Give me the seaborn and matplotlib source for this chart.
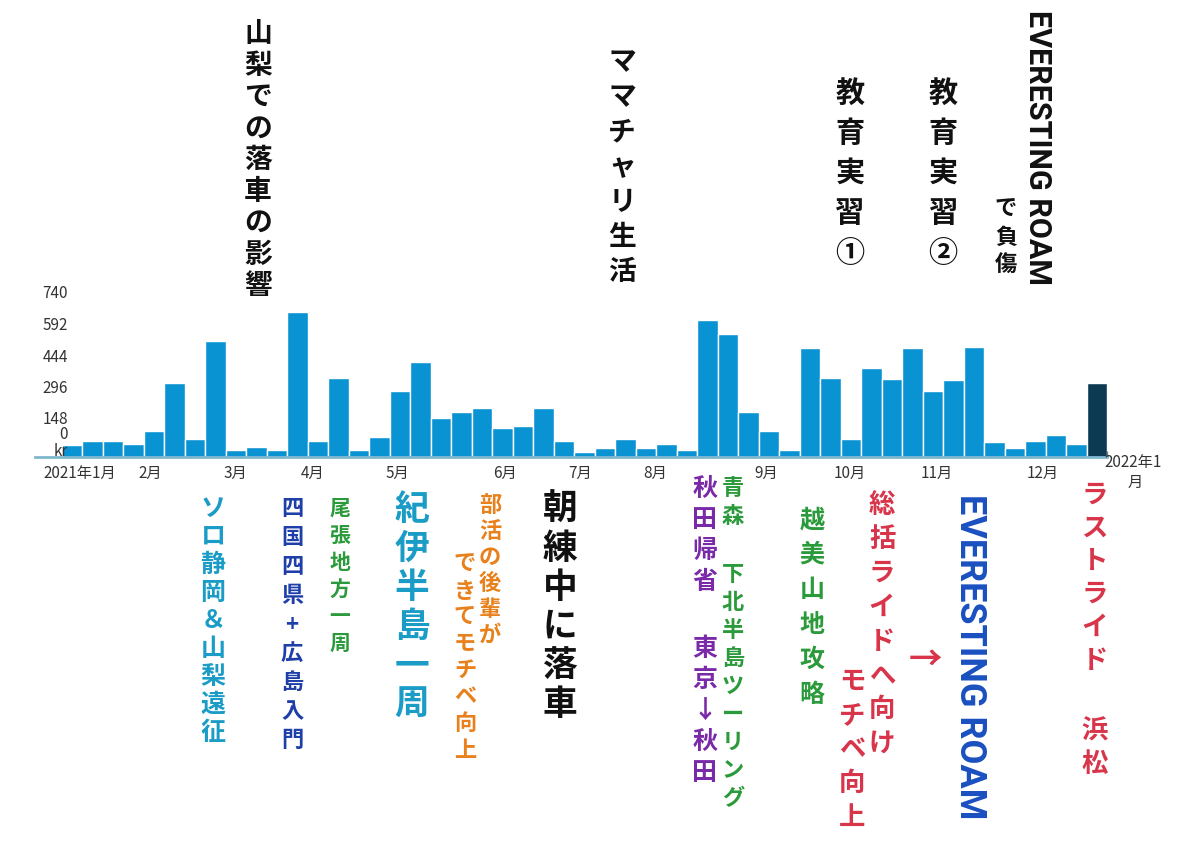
import matplotlib
matplotlib.use("Agg")
import matplotlib.pyplot as plt
import seaborn as sns
import pandas as pd

# weekly distance (km), 2021
weekly_km = [53, 73, 73, 61, 118, 337, 80, 525, 30, 45, 33, 660, 73, 359, 30, 89,
             298, 431, 176, 203, 224, 130, 139, 224, 73, 23, 41, 80, 41, 61, 33,
             623, 560, 203, 118, 33, 496, 359, 80, 404, 354, 496, 298, 348, 501,
             68, 41, 73, 98, 61, 337]
month_labels = ["2021年1月", "2月", "3月", "4月", "5月", "6月", "7月", "8月",
                "9月", "10月", "11月", "12月"]
month_px = [80, 150, 235, 313, 398, 505, 580, 655, 767, 850, 937, 1043]
ytick_labels = ["740", "592", "444", "296", "148", "0", "kr"]
ytick_px = [294, 325, 357, 388, 419, 434, 451]

W, H = 1200, 863
BAR_L, BAR_W = 62, 20.5

sns.set_theme(style="white")
plt.rcParams["font.family"] = ["Noto Sans CJK JP", "DejaVu Sans"]

fig = plt.figure(figsize=(12, 8.63), dpi=100)
ax = fig.add_axes([35 / W, 1 - 457 / H, (1107 - 35) / W, (457 - 294) / H])

df = pd.DataFrame({"week": range(len(weekly_km)), "km": weekly_km})
colors = ["#0a93d3"] * (len(weekly_km) - 1) + ["#0b3a52"]
sns.barplot(data=df, x="week", y="km", hue="week", palette=colors, legend=False,
            saturation=1, width=1.0, edgecolor="white", linewidth=1.0, ax=ax)
ax.set_ylim(0, 740)
ax.set_xlim(-0.5 - 27 / BAR_W, len(weekly_km) - 0.5)
ax.set_xlabel("")
ax.set_ylabel("")
ax.set_yticks([])
ax.set_xticks([(p - BAR_L) / BAR_W - 0.5 for p in month_px])
ax.set_xticklabels(month_labels, fontsize=11, color="#333333")
ax.set_xticks([i + 0.5 for i in range(len(weekly_km))], minor=True)
ax.tick_params(axis="x", which="major", length=0, pad=6)
ax.tick_params(axis="x", which="minor", length=4, color="#777777", bottom=True,
               direction="in")
for s in ["top", "right", "left"]:
    ax.spines[s].set_visible(False)
ax.spines["bottom"].set_color("#7fb7cf")
ax.spines["bottom"].set_linewidth(2)

for lab, py in zip(ytick_labels, ytick_px):
    fig.text(68 / W, 1 - py / H, lab, ha="right", va="center", fontsize=11,
             color="#333333")
fig.text(1104 / W, 1 - 462 / H, "2022年1", fontsize=11, color="#333333", va="center")
fig.text(1128 / W, 1 - 482 / H, "月", fontsize=11, color="#333333", va="center")


def vtext(px, top, s, color, size, pitch, weight="bold"):
    for i, ch in enumerate(s):
        fig.text(px / W, 1 - (top + i * pitch) / H, ch, ha="center", va="top",
                 fontsize=size, color=color, fontweight=weight)


def rtext(px, top, s, color, size):
    fig.text(px / W, 1 - top / H, s, ha="center", va="top", rotation=-90,
             fontsize=size, color=color, fontweight="bold",
             family=["Liberation Sans Narrow", "Roboto", "DejaVu Sans"])


BLACK, CYAN, NAVY, GREEN = "#111111", "#1a9cc6", "#1f3fa8", "#2a9a3a"
ORANGE, PURPLE, RED, BLUE = "#e8801c", "#7a2aa8", "#d8344a", "#1a4fc0"

vtext(258, 20, "山梨での落車の影響", BLACK, 20, 31.5)
vtext(622, 48, "ママチャリ生活", BLACK, 20, 35)
vtext(850, 78, "教育実習①", BLACK, 21, 40)
vtext(943, 78, "教育実習②", BLACK, 21, 40)
rtext(1038, 10, "EVERESTING ROAM", BLACK, 22)
vtext(1006, 198, "で負傷", BLACK, 16, 28)

vtext(213, 497, "ソロ静岡＆山梨遠征", CYAN, 18, 28)
vtext(292, 497, "四国四県+広島入門", NAVY, 16, 29)
vtext(340, 498, "尾張地方一周", GREEN, 15, 27)
vtext(412, 492, "紀伊半島一周", CYAN, 25, 39)
vtext(490, 494, "部活の後輩が", ORANGE, 16, 26)
vtext(465, 553, "できてモチベ向上", ORANGE, 16, 26.5)
vtext(560, 492, "朝練中に落車", BLACK, 25, 39)
vtext(705, 477, "秋田帰省", PURPLE, 18, 31)
vtext(705, 637, "東京↓秋田", PURPLE, 18, 31)
vtext(733, 477, "青森", GREEN, 16, 28)
vtext(733, 563, "下北半島ツーリング", GREEN, 16, 28)
vtext(812, 508, "越美山地攻略", GREEN, 18, 35)
vtext(882, 492, "総括ライドへ向け", RED, 19, 34)
vtext(852, 668, "モチベ向上", RED, 19, 34)
fig.text(925 / W, 1 - 660 / H, "→", ha="center", va="center", fontsize=24,
         color=RED, fontweight="bold")
rtext(970, 494, "EVERESTING ROAM", BLUE, 26)
vtext(1095, 482, "ラストライド", RED, 19, 33)
vtext(1095, 718, "浜松", RED, 19, 33)

fig.savefig("out.png", dpi=100, facecolor="white")
